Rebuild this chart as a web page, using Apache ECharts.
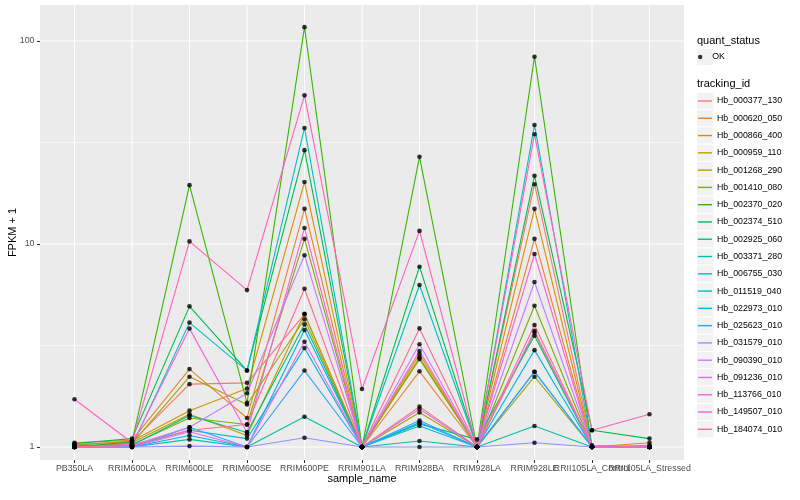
<!DOCTYPE html>
<html><head><meta charset="utf-8">
<script src="https://cdn.jsdelivr.net/npm/echarts@6/dist/echarts.min.js"></script>
<style>html,body{margin:0;padding:0;background:#fff}#c{width:800px;height:500px}</style>
</head><body><div id="c"></div>
<script>
const categories = ['PB350LA','RRIM600LA','RRIM600LE','RRIM600SE','RRIM600PE','RRIM901LA','RRIM928BA','RRIM928LA','RRIM928LE','RRII105LA_Control','RRII105LA_Stressed'];
const trackingIds = ['Hb_000377_130','Hb_000620_050','Hb_000866_400','Hb_000959_110','Hb_001268_290','Hb_001410_080','Hb_002370_020','Hb_002374_510','Hb_002925_060','Hb_003371_280','Hb_006755_030','Hb_011519_040','Hb_022973_010','Hb_025623_010','Hb_031579_010','Hb_090390_010','Hb_091236_010','Hb_113766_010','Hb_149507_010','Hb_184074_010'];
const trackingColors = ['#F8766D','#EA8331','#D89000','#C09B00','#A3A500','#7CAE00','#39B600','#00BB4E','#00BF7D','#00C1A3','#00BFC4','#00BAE0','#00B0F6','#35A2FF','#9590FF','#C77CFF','#E76BF3','#FA62DB','#FF62BC','#FF6C91'];

const hb_000377_130 = [1.03, 1.06, 2.04, 2.07, 4.5, 1.0, 1.58, 1.0, 19.7, 1.02, 1.0];
const hb_000620_050 = [1.05, 1.08, 2.42, 1.39, 14.9, 1.0, 2.36, 1.0, 10.6, 1.0, 1.02];
const hb_000866_400 = [1.02, 1.07, 1.51, 1.94, 20.2, 1.0, 2.87, 1.0, 14.9, 1.0, 1.05];
const hb_000959_110 = [1.0, 1.05, 1.45, 1.14, 4.53, 1.0, 2.77, 1.0, 3.66, 1.0, 1.0];
const hb_001268_290 = [1.0, 1.04, 2.22, 1.62, 4.26, 1.0, 1.48, 1.0, 2.22, 1.0, 1.0];
const hb_001410_080 = [1.01, 1.03, 1.39, 1.29, 10.6, 1.0, 2.71, 1.0, 4.96, 1.0, 1.0];
const hb_002370_020 = [1.0, 1.06, 19.5, 1.65, 117, 1.0, 26.9, 1.0, 83.7, 1.0, 1.0];
const hb_002374_510 = [1.04, 1.1, 4.93, 2.38, 29.0, 1.0, 7.73, 1.0, 21.7, 1.21, 1.1];
const hb_002925_060 = [1.02, 1.02, 1.43, 1.18, 4.02, 1.0, 1.30, 1.09, 3.53, 1.0, 1.0];
const hb_003371_280 = [1.0, 1.0, 1.09, 1.0, 1.41, 1.0, 1.07, 1.0, 1.27, 1.0, 1.0];
const hb_006755_030 = [1.01, 1.01, 4.10, 2.38, 37.3, 1.0, 6.28, 1.0, 38.6, 1.0, 1.0];
const hb_011519_040 = [1.0, 1.01, 1.21, 1.10, 3.07, 1.0, 1.27, 1.0, 3.00, 1.0, 1.0];
const hb_022973_010 = [1.0, 1.0, 1.14, 1.0, 3.77, 1.0, 1.32, 1.0, 2.35, 1.0, 1.0];
const hb_025623_010 = [1.0, 1.0, 1.25, 1.0, 2.38, 1.0, 1.35, 1.0, 2.35, 1.0, 1.0];
const hb_031579_010 = [1.0, 1.0, 1.01, 1.0, 1.11, 1.0, 1.0, 1.0, 1.05, 1.0, 1.0];
const hb_090390_010 = [1.0, 1.02, 1.25, 1.84, 8.8, 1.0, 3.21, 1.0, 6.50, 1.0, 1.0];
const hb_091236_010 = [1.0, 1.0, 1.19, 1.0, 3.30, 1.0, 1.54, 1.0, 3.74, 1.0, 1.0];
const hb_113766_010 = [1.0, 1.03, 3.83, 1.18, 12.0, 1.0, 2.97, 1.0, 8.93, 1.0, 1.0];
const hb_149507_010 = [1.72, 1.05, 10.3, 5.93, 54.0, 1.93, 11.6, 1.0, 34.7, 1.21, 1.45];
const hb_184074_010 = [1.0, 1.02, 1.21, 1.29, 6.02, 1.0, 3.84, 1.0, 3.99, 1.0, 1.0];

const seriesValues = [hb_000377_130, hb_000620_050, hb_000866_400, hb_000959_110, hb_001268_290, hb_001410_080, hb_002370_020, hb_002374_510, hb_002925_060, hb_003371_280, hb_006755_030, hb_011519_040, hb_022973_010, hb_025623_010, hb_031579_010, hb_090390_010, hb_091236_010, hb_113766_010, hb_149507_010, hb_184074_010];

const quantStatus = ['OK'];
const yTickValues = [1, 10, 100];
const yTickLabels = ['1', '10', '100'];
const yMinorValues = [3.1623, 31.623];

const FONT = '"Liberation Sans", Arial, Helvetica, sans-serif';
const PANEL = {left: 40, right: 684, top: 5, bottom: 460};
const STEP = (PANEL.right - PANEL.left) / (categories.length - 1 + 1.2);
const gridLeft = PANEL.left + 0.1 * STEP;
const gridRight = PANEL.right - 0.1 * STEP;

const chart = echarts.init(document.getElementById('c'), null, {renderer: 'canvas'});

const lineSeries = trackingIds.map((id, i) => ({
  name: id,
  type: 'line',
  data: seriesValues[i],
  showSymbol: false,
  symbol: 'none',
  silent: true,
  z: 2,
  lineStyle: {color: trackingColors[i], width: 1.1},
  itemStyle: {color: trackingColors[i]},
  emphasis: {disabled: true}
}));

const pointData = [];
seriesValues.forEach(vals => vals.forEach((v, j) => pointData.push([j, v])));

const option = {
  animation: false,
  backgroundColor: '#ffffff',
  textStyle: {fontFamily: FONT},
  grid: {left: gridLeft, right: 800 - gridRight, top: PANEL.top, bottom: 500 - PANEL.bottom, containLabel: false, outerBoundsMode: 'none'},
  xAxis: {
    type: 'category',
    data: categories,
    boundaryGap: true,
    axisLine: {show: false},
    axisTick: {show: true, alignWithLabel: true, interval: 0, length: 3, lineStyle: {color: '#333333', width: 1.07}},
    axisLabel: {interval: 0, fontSize: 8.8, color: '#4D4D4D', margin: 4.5, fontFamily: FONT, hideOverlap: false},
    splitLine: {show: false},
    name: 'sample_name',
    nameLocation: 'middle',
    nameGap: 13.5,
    nameMoveOverlap: false,
    nameTextStyle: {fontSize: 11, color: '#000', fontFamily: FONT}
  },
  yAxis: {
    type: 'log',
    logBase: 10,
    min: 0.8629,
    max: 150.46,
    offset: gridLeft - PANEL.left,
    axisLine: {show: false},
    axisTick: {show: true, length: 3, customValues: yTickValues, lineStyle: {color: '#333333', width: 1.07}},
    axisLabel: {
      customValues: yTickValues,
      fontSize: 8.8, color: '#4D4D4D', margin: 5.5, fontFamily: FONT,
      formatter: function (v) {
        for (let k = 0; k < yTickValues.length; k++) {
          if (Math.abs(v - yTickValues[k]) / yTickValues[k] < 1e-6) return yTickLabels[k];
        }
        return '';
      }
    },
    splitLine: {show: false},
    minorSplitLine: {show: false},
    name: 'FPKM + 1',
    nameLocation: 'middle',
    nameRotate: 90,
    nameGap: 22,
    nameMoveOverlap: false,
    nameTextStyle: {fontSize: 11, color: '#000', fontFamily: FONT}
  },
  legend: [
    {
      data: quantStatus,
      orient: 'vertical',
      left: 698, top: 57 - 8.64,
      padding: 0, itemGap: 0,
      icon: 'circle', itemWidth: 14, itemHeight: 4.4,
      selectedMode: false,
      itemStyle: {color: '#000'},
      textStyle: {fontSize: 8.8, color: '#000', lineHeight: 17.28, fontFamily: FONT}
    },
    {
      data: trackingIds,
      orient: 'vertical',
      left: 698, top: 101 - 8.64,
      padding: 0, itemGap: 0,
      icon: 'rect', itemWidth: 14, itemHeight: 1.4,
      selectedMode: false,
      textStyle: {fontSize: 8.8, color: '#000', lineHeight: 17.28, fontFamily: FONT}
    }
  ],
  series: lineSeries.concat([{
    name: 'OK',
    type: 'scatter',
    data: pointData,
    symbol: 'circle',
    symbolSize: 4.6,
    silent: true,
    z: 5,
    itemStyle: {color: '#000000'},
    emphasis: {disabled: true}
  }])
};

chart.setOption(option);

const graphics = [];
graphics.push({type: 'rect', z: -20, silent: true,
  shape: {x: PANEL.left, y: PANEL.top, width: PANEL.right - PANEL.left, height: PANEL.bottom - PANEL.top},
  style: {fill: '#EBEBEB'}});
yMinorValues.forEach(v => {
  const y = chart.convertToPixel({yAxisIndex: 0}, v);
  graphics.push({type: 'line', z: -19, silent: true, shape: {x1: PANEL.left, y1: y, x2: PANEL.right, y2: y}, style: {stroke: '#FFFFFF', lineWidth: 0.55}});
});
yTickValues.forEach(v => {
  const y = chart.convertToPixel({yAxisIndex: 0}, v);
  graphics.push({type: 'line', z: -18, silent: true, shape: {x1: PANEL.left, y1: y, x2: PANEL.right, y2: y}, style: {stroke: '#FFFFFF', lineWidth: 1.07}});
});
categories.forEach((c, j) => {
  const x = chart.convertToPixel({xAxisIndex: 0}, j);
  graphics.push({type: 'line', z: -18, silent: true, shape: {x1: x, y1: PANEL.top, x2: x, y2: PANEL.bottom}, style: {stroke: '#FFFFFF', lineWidth: 1.07}});
});
graphics.push({type: 'text', z: 10, silent: true, style: {x: 697, y: 41, text: 'quant_status', fontSize: 11, fill: '#000', fontFamily: FONT, verticalAlign: 'middle', align: 'left'}});
graphics.push({type: 'text', z: 10, silent: true, style: {x: 697, y: 84, text: 'tracking_id', fontSize: 11, fill: '#000', fontFamily: FONT, verticalAlign: 'middle', align: 'left'}});
const keyCenters = [57].concat(trackingIds.map((id, i) => 101 + i * 17.28));
keyCenters.forEach(cy => {
  graphics.push({type: 'rect', z: 1, silent: true,
    shape: {x: 696.6, y: cy - 8.64, width: 17.28, height: 17.28},
    style: {fill: '#F2F2F2', stroke: '#FFFFFF', lineWidth: 1}});
});
chart.setOption({graphic: graphics});
</script>
</body></html>
